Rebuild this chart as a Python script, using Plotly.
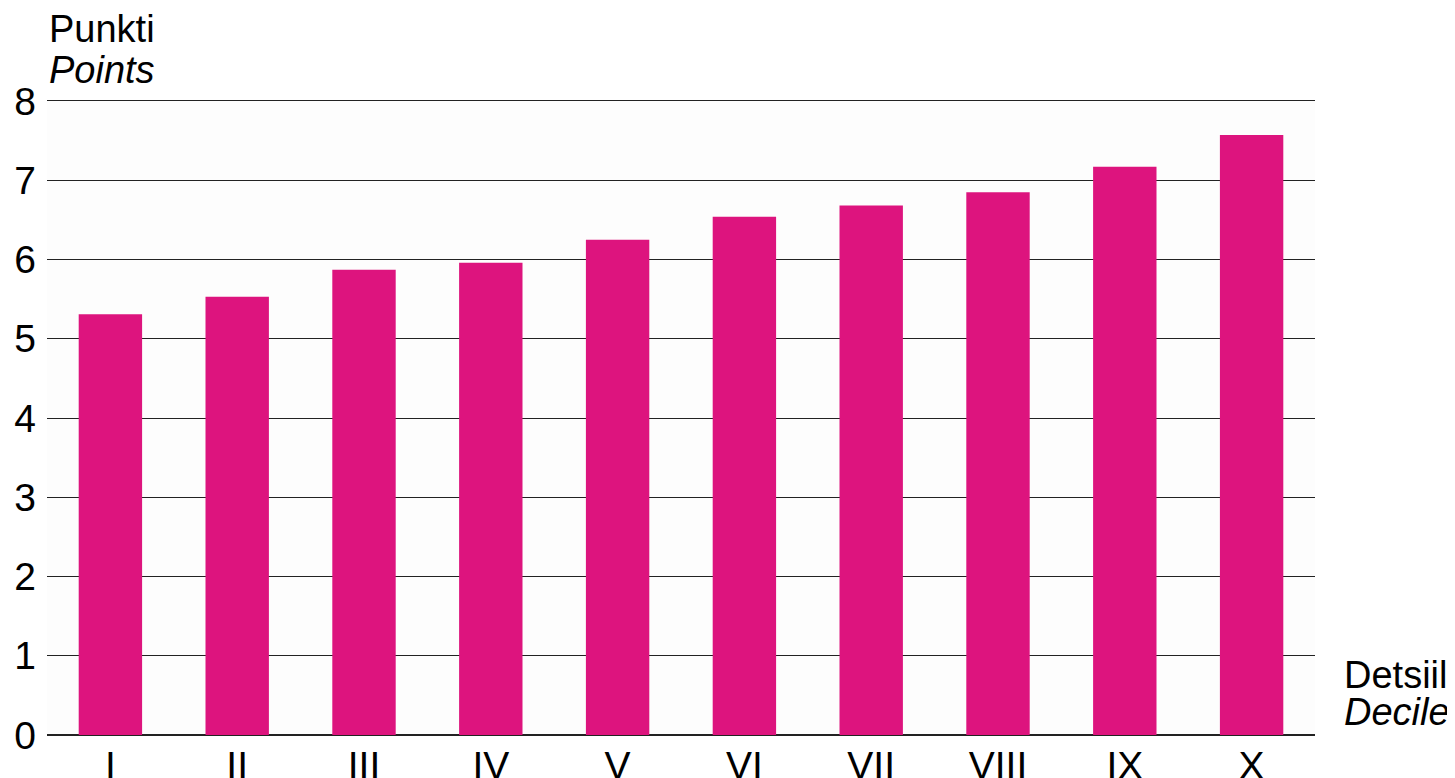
import plotly.graph_objects as go

deciles = ["I", "II", "III", "IV", "V", "VI", "VII", "VIII", "IX", "X"]
points = [5.31, 5.53, 5.87, 5.96, 6.25, 6.54, 6.68, 6.85, 7.17, 7.57]

FONT = "Liberation Sans, Arial, sans-serif"
LINE = "#222222"

fig = go.Figure(
    go.Bar(
        x=deciles,
        y=points,
        marker=dict(color="#DD147E", line=dict(width=0)),
        width=0.5,
    )
)

# axis titles as separate annotations (Estonian + italic English)
titles = [
    ("Punkti", 0.0, 0, 1.114),
    ("<i>Points</i>", 0.0, 0, 1.049),
    ("Detsiil", 1.0, 27, 0.094),
    ("<i>Decile</i>", 1.0, 27, 0.037),
]
for text, xp, dx, yp in titles:
    fig.add_annotation(
        xref="paper", yref="paper", x=xp, xshift=dx, y=yp,
        text=text, showarrow=False, xanchor="left", yanchor="middle",
        font=dict(size=38, color="black"),
    )

# the page body adds an 8px offset; margins allow for it
fig.update_layout(
    width=1455,
    height=778,
    margin=dict(l=39, r=148, t=93, b=51),
    paper_bgcolor="white",
    plot_bgcolor="#FDFDFD",
    font=dict(family=FONT, size=39, color="black"),
    showlegend=False,
    xaxis=dict(
        showgrid=False, ticks="", tickfont=dict(size=39),
        ticklabelstandoff=-4, automargin=False,
        # mirrored line gives the top (8) rule
        showline=True, mirror=True, linecolor=LINE, linewidth=1.3,
    ),
    yaxis=dict(
        range=[0, 8], tickvals=list(range(9)), showgrid=True,
        gridcolor=LINE, gridwidth=1.3,
        zeroline=True, zerolinecolor=LINE, zerolinewidth=1.5,
        ticks="", tickfont=dict(size=39), ticklabelstandoff=10,
        showline=False, automargin=False,
    ),
)

fig.write_html("out.html")
